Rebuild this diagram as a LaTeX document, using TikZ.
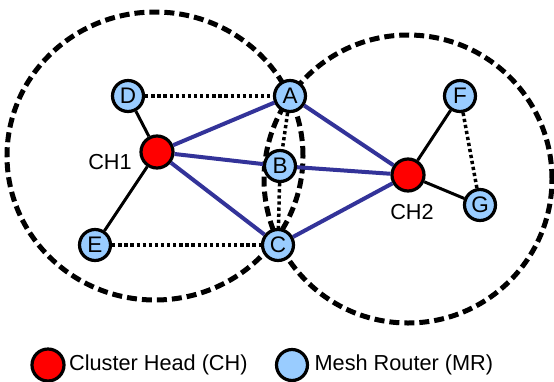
\documentclass[tikz,border=0pt]{standalone}
\usepackage{fontspec}
\setmainfont{Liberation Sans}
\usetikzlibrary{positioning}
\definecolor{routerblue}{HTML}{99CCFF}
\definecolor{linkblue}{HTML}{333399}

\begin{document}
\begin{tikzpicture}[x=1pt,y=-1pt,font=\fontsize{21.7}{26}\selectfont,
		router/.style={circle,draw,line width=3.2pt,fill=routerblue,minimum size=31pt,inner sep=0pt,font=\fontsize{22.5}{26}\selectfont},
		head/.style={circle,draw,line width=3.2pt,fill=red,minimum size=32pt,inner sep=0pt},
		coverage/.style={line width=5pt,dash pattern=on 10pt off 5pt},
		link/.style={line width=4pt,draw=linkblue},
		member/.style={line width=3pt},
		weak/.style={line width=3.5pt,dash pattern=on 3.3pt off 2.8pt}]
		\useasboundingbox (0,0) rectangle (554,381);
		% cluster ranges
		\draw[coverage] (155,156) ellipse (148pt and 144pt);
		\draw[coverage] (408,179) circle (144pt);
		
		\node[head] (ch1) at (157,152) {};
		\node[head] (ch2) at (408,175) {};
		\node (l1) at (110,162) {CH1};
		\node (l2) at (412,212) {CH2};
		\node[router] (a) at (290,96) {A};
		\node[router] (b) at (280,166) {B};
		\node[router] (c) at (278,245) {C};
		\node[router] (d) at (128,96) {D};
		\node[router] (e) at (95,245) {E};
		\node[router] (f) at (460,96) {F};
		\node[router] (g) at (480,205) {G};
		
		\draw[member] (ch1) -- (d);
		\draw[member] (ch1) -- (e);
		\draw[member] (ch2) -- (f);
		\draw[member] (ch2) -- (g);
		\draw[link] (ch1) -- (a);
		\draw[link] (ch1) -- (b);
		\draw[link] (ch1) -- (c);
		\draw[link] (ch2) -- (a);
		\draw[link] (ch2) -- (b);
		\draw[link] (ch2) -- (c);
		\draw[weak] (d) -- (a);
		\draw[weak] (e) -- (c);
		\draw[weak] (a) -- (b);
		\draw[weak] (b) -- (c);
		\draw[weak] (f) -- (g);
		
		% legend
		\node[head] (lh) at (48,365) {};
		\node[right=0pt of lh] (th) {Cluster Head (CH)};
		\node[router] (lr) at (292,365) {};
		\node[right=2pt of lr] (tr) {Mesh Router (MR)};
	\end{tikzpicture}
\end{document}
